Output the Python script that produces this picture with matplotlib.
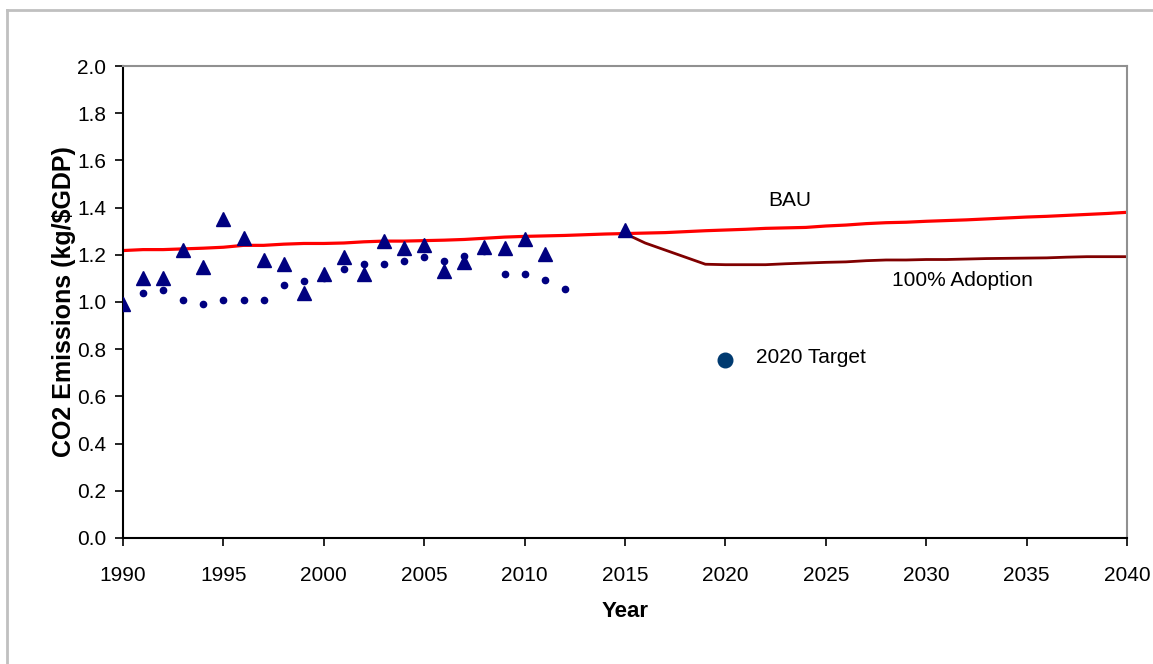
import matplotlib.pyplot as plt
from matplotlib.lines import Line2D
import numpy as np

plt.rcParams['font.family'] = ['Liberation Sans', 'DejaVu Sans']

# observed intensity, triangles
tri_years = [1990, 1991, 1992, 1993, 1994, 1995, 1996, 1997, 1998, 1999, 2000,
             2001, 2002, 2003, 2004, 2005, 2006, 2007, 2008, 2009, 2010, 2011, 2015]
tri_vals = [0.99, 1.10, 1.10, 1.22, 1.15, 1.35, 1.27, 1.18, 1.16, 1.04, 1.12,
            1.19, 1.12, 1.26, 1.23, 1.24, 1.13, 1.17, 1.235, 1.23, 1.265, 1.205, 1.305]

# second observed series, small dots
dot_years = list(range(1991, 2013))
dot_vals = [1.04, 1.05, 1.01, 0.99, 1.01, 1.01, 1.01, 1.07, 1.09, 1.10, 1.14,
            1.16, 1.16, 1.175, 1.19, 1.175, 1.195, 1.215, 1.12, 1.12, 1.095, 1.055]

bau_years = list(range(1990, 2041))
bau_vals = [1.218, 1.222, 1.222, 1.225, 1.228, 1.232, 1.24, 1.24, 1.245, 1.248,
            1.248, 1.25, 1.255, 1.258, 1.258, 1.26, 1.262, 1.265, 1.27, 1.275,
            1.278, 1.28, 1.282, 1.285, 1.288, 1.29, 1.292, 1.294, 1.298, 1.302,
            1.305, 1.308, 1.312, 1.314, 1.316, 1.322, 1.326, 1.332, 1.336, 1.338,
            1.342, 1.345, 1.348, 1.352, 1.356, 1.36, 1.363, 1.367, 1.371, 1.375, 1.38]

adopt_years = list(range(2015, 2041))
adopt_vals = [1.29, 1.25, 1.22, 1.19, 1.16, 1.158, 1.158, 1.158, 1.162, 1.165,
              1.168, 1.17, 1.175, 1.178, 1.178, 1.18, 1.18, 1.182, 1.184, 1.185,
              1.186, 1.187, 1.19, 1.192, 1.192, 1.192]

target_year = [2020]
target_val = [0.756]

fig = plt.figure(figsize=(11.53, 6.64), dpi=100)
ax = fig.add_axes([0.1067, 0.1898, 0.8708, 0.7108])

# outer chart-area border (left and top only visible)
fig.add_artist(Line2D([7 / 1153, 7 / 1153], [0, 1 - 10 / 664], transform=fig.transFigure,
                      color='#c0c0c0', lw=2))
fig.add_artist(Line2D([7 / 1153, 1], [1 - 10 / 664, 1 - 10 / 664], transform=fig.transFigure,
                      color='#c0c0c0', lw=2))

ax.plot(bau_years, bau_vals, color='#ff0000', lw=2.3, zorder=2)
ax.plot(adopt_years, adopt_vals, color='#800000', lw=2.0, zorder=2)
ax.plot(dot_years, dot_vals, 'o', color='#000080', ms=4.5, ls='none', zorder=3)
ax.plot(tri_years, tri_vals, '^', color='#000080', ms=10, ls='none', zorder=4)
ax.plot(target_year, target_val, 'o', color='#003a70', ms=10.5, ls='none', zorder=4)

ax.text(2021.5, 0.765, '2020 Target', fontsize=15, va='center', ha='left')
ax.text(2023.2, 1.43, 'BAU', fontsize=15, va='center', ha='center')
ax.text(2031.8, 1.09, '100% Adoption', fontsize=15, va='center', ha='center')

ax.set_xlim(1990, 2040)
ax.set_ylim(0, 2.0)
ax.set_xticks(np.arange(1990, 2041, 5))
ax.set_yticks(np.arange(0, 2.01, 0.2))
ax.set_yticklabels([f'{v:.1f}' for v in np.arange(0, 2.01, 0.2)])
ax.tick_params(direction='out', length=6, width=1.2, labelsize=15, color='black')
ax.tick_params(axis='x', pad=14)
ax.tick_params(axis='y', pad=6)

for s in ['left', 'bottom']:
    ax.spines[s].set_color('black')
    ax.spines[s].set_linewidth(1.5)
for s in ['top', 'right']:
    ax.spines[s].set_color('#909090')
    ax.spines[s].set_linewidth(1.5)

ax.set_xlabel('Year', fontsize=16, fontweight='bold', labelpad=12)
ax.set_ylabel('CO2 Emissions (kg/$GDP)', fontsize=18, fontweight='bold', labelpad=1)

fig.savefig('out.png', dpi=100)
